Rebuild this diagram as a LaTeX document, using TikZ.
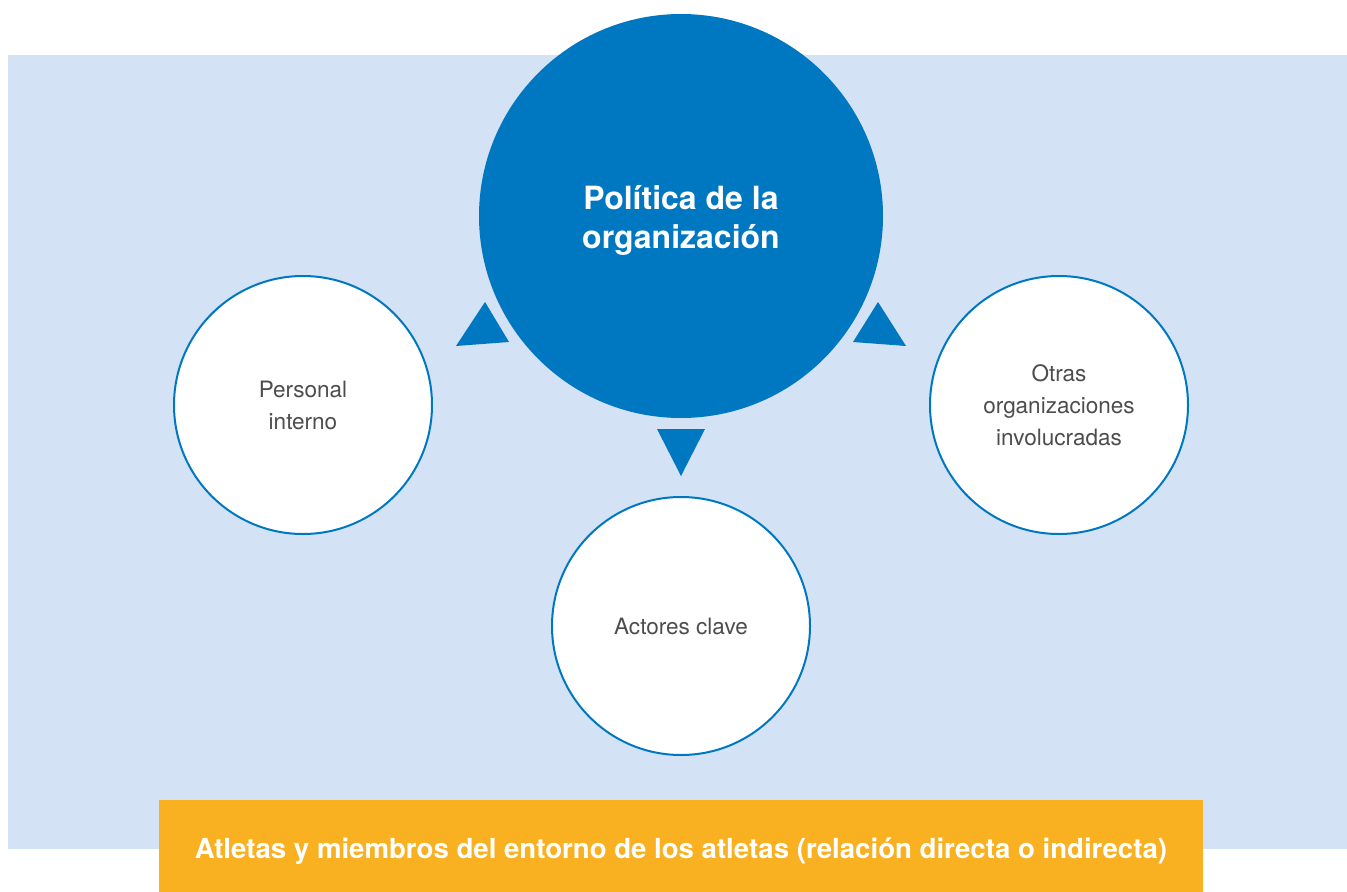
\documentclass[tikz,border=0pt]{standalone}
\usepackage{fontspec}
\setmainfont{TeX Gyre Heros}
\usetikzlibrary{positioning}
\definecolor{polblue}{HTML}{0078C1}
\definecolor{bgblue}{HTML}{D3E2F4}
\definecolor{atlorange}{HTML}{F9B122}
\definecolor{txtgray}{HTML}{4D4D4D}
\tikzset{
  x=0.75pt, y=-0.75pt,
  core/.style={circle, fill=polblue, minimum size=303pt, inner sep=0pt, align=center,
    text=white, font=\bfseries\fontsize{24}{29}\selectfont},
  grp/.style={circle, draw=polblue, line width=1.5pt, fill=white, minimum size=193.5pt,
    inner sep=0pt, align=center, text=txtgray, font=\fontsize{16.9}{24}\selectfont},
  band/.style={fill=atlorange, minimum width=783pt, minimum height=69pt, inner sep=0pt,
    text height=22pt, text depth=4pt,
    text=white, font=\bfseries\fontsize{20.7}{24}\selectfont},
  tri/.style={fill=polblue}
}
\begin{document}
\begin{tikzpicture}
		\useasboundingbox (0,0) rectangle (1347,892);
		\fill[bgblue] (8,55) rectangle (1347,849);
		\node[core] (pol) at (681,216) {\rule{0pt}{25pt}Política de la\\organización};
		\node[grp] (per) at (303,405) {Personal\\interno};
		\node[grp] (otr) at (1059,405) {Otras\\organizaciones\\involucradas};
		\node[grp] (act) at (681,626) {Actores clave};
		\node[band] (atl) at (681,846) {Atletas y miembros del entorno de los atletas (relación directa o indirecta)};
		\fill[tri] (456,346) -- (509,342) -- (485,302) -- cycle;
		\fill[tri] (853,342) -- (906,346) -- (878,302) -- cycle;
		\fill[tri] (657,429) -- (705,429) -- (681,476) -- cycle;
	\end{tikzpicture}
\end{document}
